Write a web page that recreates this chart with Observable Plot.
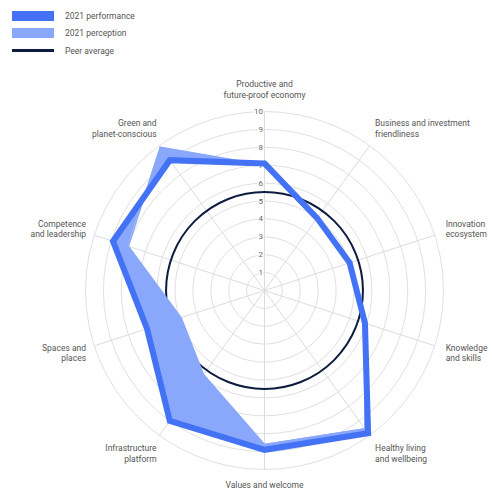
<!DOCTYPE html>
<html>
<head>
<meta charset="utf-8">
<script src="https://cdn.jsdelivr.net/npm/d3@7"></script>
<script src="https://cdn.jsdelivr.net/npm/@observablehq/plot@0.6"></script>
<style>
  html, body { margin: 0; padding: 0; background: #fff; }
  #wrap { position: relative; width: 492px; height: 491px; font-family: Roboto, sans-serif; }
  #legend { position: absolute; left: 12px; top: 7px; font-size: 8.5px; color: #555; }
  .row { display: flex; align-items: center; height: 17.5px; }
  .sw { width: 42px; height: 10px; margin-right: 11px; }
  .ln { width: 42px; height: 3px; margin: 3.5px 11px 3.5px 0; }
</style>
</head>
<body>
<div id="wrap">
  <div id="chart"></div>
  <div id="legend"></div>
</div>
<script>
const axes = [
  "Productive and\nfuture-proof economy",
  "Business and investment\nfriendliness",
  "Innovation\necosystem",
  "Knowledge\nand skills",
  "Healthy living\nand wellbeing",
  "Values and welcome",
  "Infrastructure\nplatform",
  "Spaces and\nplaces",
  "Competence\nand leadership",
  "Green and\nplanet-conscious"
];
const performance = [7.1, 5.0, 5.0, 5.9, 9.85, 8.9, 9.0, 6.9, 8.9, 9.0];
const perception  = [7.0, 4.95, 4.95, 5.85, 9.55, 8.6, 5.8, 4.9, 8.0, 9.9];
const peerAverage = 5.5;
const ticks = [1, 2, 3, 4, 5, 6, 7, 8, 9, 10];
const seriesNames = ["2021 performance", "2021 perception", "Peer average"];
const colors = {perf: "#4372f5", perc: "#8aa8fb", peer: "#0d1b3e"};

const n = axes.length;
const ang = i => i * 2 * Math.PI / n;
const ring = vals => {
  const pts = vals.map((v, i) => ({x: v * Math.sin(ang(i)), y: v * Math.cos(ang(i))}));
  return pts.concat([pts[0]]);
};
const perfPts = ring(performance);
const percPts = ring(perception);
const band = percPts.map((p, i) => ({x1: p.x, y1: p.y, x2: perfPts[i].x, y2: perfPts[i].y}));
const axisData = axes.map((name, i) => ({name, i, s: Math.sin(ang(i)), c: Math.cos(ang(i))}));
const LR = 10.85;
const diag = d => (Math.abs(d.s) > 0.3 && Math.abs(d.c) > 0.3) ? 0.25 : 0;

const cx = 264, cy = 290, R = 179;
const chart = Plot.plot({
  width: 492,
  height: 491,
  x: {domain: [-10, 10], range: [cx - R, cx + R], axis: null},
  y: {domain: [-10, 10], range: [cy + R, cy - R], axis: null},
  r: {type: "linear", domain: [0, 10], range: [0, R]},
  style: {fontFamily: "Roboto, sans-serif", fontSize: "8.5px", color: "#555", background: "transparent"},
  marks: [
    Plot.dot(ticks, {x: () => 0, y: () => 0, r: d => d, fill: "none", stroke: "#e0e0e0", strokeWidth: 1}),
    Plot.link(axisData, {x1: () => 0, y1: () => 0, x2: d => 10 * d.s, y2: d => 10 * d.c, stroke: "#dcdcdc", strokeWidth: 1}),
    Plot.text(ticks, {x: () => 0, y: d => d, text: d => String(d), textAnchor: "end", dx: -1.5, fill: "#666", fontSize: 8, stroke: "white", strokeWidth: 3, paintOrder: "stroke"}),
    Plot.dot([peerAverage], {x: () => 0, y: () => 0, r: d => d, fill: "none", stroke: colors.peer, strokeWidth: 2}),
    Plot.area(band, {x1: "x1", y1: "y1", x2: "x2", y2: "y2", fill: colors.perc, fillOpacity: 1}),
    Plot.line(percPts, {x: "x", y: "y", stroke: colors.perc, strokeWidth: 1.5, strokeLinejoin: "miter"}),
    Plot.line(perfPts, {x: "x", y: "y", stroke: colors.perf, strokeWidth: 6, strokeLinejoin: "miter", strokeMiterlimit: 10}),
    Plot.text(axisData, {filter: d => d.i === 0, x: d => 0, y: d => 10.75, text: "name", textAnchor: "middle", lineAnchor: "bottom", fill: "#555", lineHeight: 1.25}),
    Plot.text(axisData, {filter: d => d.i === 5, x: d => 0, y: d => -10.6, text: "name", textAnchor: "middle", lineAnchor: "top", fill: "#555", lineHeight: 1.25}),
    Plot.text(axisData, {filter: d => d.i > 0 && d.i < 5, x: d => LR * d.s - diag(d) * 0.8, y: d => (LR + diag(d) * 1.5) * d.c, text: "name", textAnchor: "start", lineAnchor: "middle", fill: "#555", lineHeight: 1.25}),
    Plot.text(axisData, {filter: d => d.i > 5, x: d => LR * d.s + diag(d) * 1.4, y: d => (LR + diag(d) * 1.5) * d.c, text: "name", textAnchor: "end", lineAnchor: "middle", fill: "#555", lineHeight: 1.25})
  ]
});
document.getElementById("chart").appendChild(chart);

const legend = document.getElementById("legend");
const swatches = [
  `<div class="sw" style="background:${colors.perf}"></div>`,
  `<div class="sw" style="background:${colors.perc}"></div>`,
  `<div class="ln" style="background:${colors.peer}"></div>`
];
legend.innerHTML = seriesNames.map((s, i) => `<div class="row">${swatches[i]}<span>${s}</span></div>`).join("");
</script>
</body>
</html>
